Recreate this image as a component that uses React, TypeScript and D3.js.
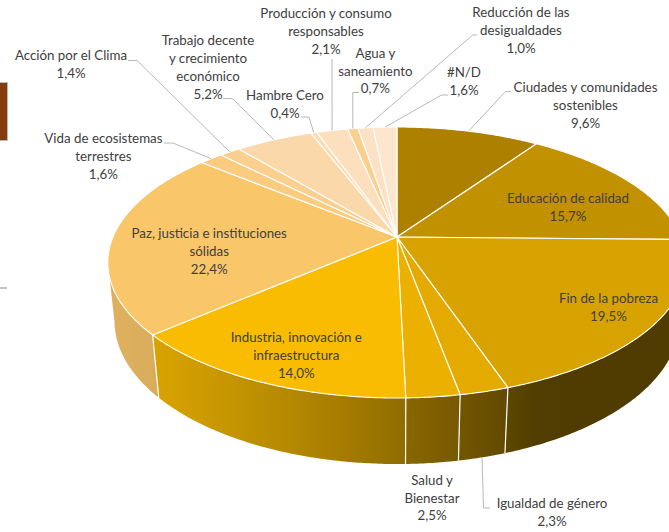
import * as d3 from "d3";

// slices, clockwise from 12 o'clock
const categories = [
  "Ciudades y comunidades sostenibles",
  "Educación de calidad",
  "Fin de la pobreza",
  "Igualdad de género",
  "Salud y Bienestar",
  "Industria, innovación e infraestructura",
  "Paz, justicia e instituciones sólidas",
  "Vida de ecosistemas terrestres",
  "Acción por el Clima",
  "Trabajo decente y crecimiento económico",
  "Hambre Cero",
  "Producción y consumo responsables",
  "Agua y saneamiento",
  "Reducción de las desigualdades",
  "#N/D",
];
const shares = [9.6, 15.7, 19.5, 2.3, 2.5, 14.0, 22.4, 1.6, 1.4, 5.2, 0.4, 2.1, 0.7, 1.0, 1.6];
const labelLines = [
  ["Ciudades y comunidades", "sostenibles"],
  ["Educación de calidad"],
  ["Fin de la pobreza"],
  ["Igualdad de género"],
  ["Salud y", "Bienestar"],
  ["Industria, innovación e", "infraestructura"],
  ["Paz, justicia e instituciones", "sólidas"],
  ["Vida de ecosistemas", "terrestres"],
  ["Acción por el Clima"],
  ["Trabajo decente", "y crecimiento", "económico"],
  ["Hambre Cero"],
  ["Producción y consumo", "responsables"],
  ["Agua y", "saneamiento"],
  ["Reducción de las", "desigualdades"],
  ["#N/D"],
];
const colors = [
  "#AE8000", "#C29100", "#D8A300", "#E4AA00", "#ECB100", "#F9BC00", "#F9C66A",
  "#FBCB80", "#FBCF8E", "#FAD8AA", "#FBDCB2", "#FCE0BE", "#FBD08E", "#FCE2C4", "#FCE6CD",
];

// label layout (centre of first line) and leader hooks
const labelAt: [number, number][] = [
  [585.5, 87.5], [568, 198.3], [608.5, 298.3], [552, 503.3], [432, 480],
  [296.3, 337.7], [209.2, 233.3], [103.4, 138.4], [71, 55.3], [208, 40.7],
  [285, 95.4], [326, 13.6], [375.4, 53], [521, 12.6], [464, 72.3],
];
const hooks: ([number, number][] | null)[] = [
  [[505.5, 91.6], [511, 91.6]],
  null,
  null,
  [[483.5, 508], [490, 508]],
  null,
  null,
  null,
  [[173, 143], [164, 143]],
  [[137, 60.5], [128, 60.5]],
  [[232.5, 98.5], [223, 98.5]],
  [[309, 117], [301, 117]],
  [[332, 59]],
  [[352.8, 92.5], [359, 92.5]],
  [[472.7, 35], [477, 35]],
  [[441.6, 95], [448, 95]],
];

const W = 669, H = 532;
// perspective camera for the 3d pie
const cx = 397, cy = 237, focal = 1340, dist = 4.718;
const sinE = 0.4602, cosE = 0.8878, thick = 0.233;

function project(theta: number, y: number): [number, number] {
  const X = Math.sin(theta), Z = Math.cos(theta);
  const yc = y * cosE + Z * sinE;
  const d = dist + Z * cosE - y * sinE;
  return [cx + (focal * X) / d, cy - (focal * yc) / d];
}

function shade(col: string, theta: number) {
  const deg = (theta * 180) / Math.PI;
  const k = 0.37 + 0.52 * Math.max(0, Math.cos(((deg - 245) * Math.PI) / 180));
  const c = d3.rgb(col);
  return d3.rgb(c.r * k, c.g * k, c.b * k).formatHex();
}

const fmt = (v: number) => v.toFixed(1).replace(".", ",") + "%";

export default function App() {
  const arcs = d3.pie<number>().sort(null).value((d) => d)(shares);
  const line = d3.line();
  const step = Math.PI / 360;

  const arcPts = (s: number, e: number, y: number) => {
    const n = Math.max(2, Math.ceil((e - s) / step));
    return d3.range(n + 1).map((i) => project(s + ((e - s) * i) / n, y));
  };

  const tops = arcs.map((a) => line([[cx, cy], ...arcPts(a.startAngle, a.endAngle, 0)]) + "Z");

  // visible side: between the two silhouette angles
  const sil = Math.acos(-cosE / dist);
  const lo = sil, hi = 2 * Math.PI - sil;
  const sides: { d: string; x1: number; x2: number; stops: { o: number; c: string }[] }[] = [];
  const edges: number[] = [];
  arcs.forEach((a, i) => {
    const s = Math.max(a.startAngle, lo), e = Math.min(a.endAngle, hi);
    if (e <= s) return;
    if (a.startAngle > lo && a.startAngle < hi) edges.push(a.startAngle);
    const top = arcPts(s, e, 0);
    const bot = arcPts(s, e, -thick).reverse();
    const x1 = top[0][0], x2 = top[top.length - 1][0];
    const stops = d3.range(13).map((k) => {
      const t = s + ((e - s) * k) / 12;
      const x = project(t, 0)[0];
      return { o: Math.abs(x2 - x1) < 1e-6 ? 0 : (x - x1) / (x2 - x1), c: shade(colors[i], t) };
    });
    sides.push({ d: line([...top, ...bot]) + "Z", x1, x2, stops });
  });

  return (
    <svg width={W} height={H} style={{ position: "absolute", left: 0, top: 0 }}
      fontFamily="Lato, 'Open Sans', sans-serif" fontSize={13.3}>
      <defs>
        {sides.map((s, i) => (
          <linearGradient key={i} id={"side" + i} gradientUnits="userSpaceOnUse" x1={s.x1} x2={s.x2} y1={0} y2={0}>
            {s.stops.map((st, j) => (
              <stop key={j} offset={st.o} stopColor={st.c} />
            ))}
          </linearGradient>
        ))}
      </defs>
      <rect x={0} y={0} width={W} height={H} fill="#fff" />
      <rect x={-1} y={82.5} width={8.5} height={58} fill="#843C0C" stroke="#BFBFBF" strokeWidth={0.75} />
      <line x1={0} x2={7} y1={288} y2={288} stroke="#8C8C8C" strokeWidth={1} />

      {sides.map((s, i) => (
        <path key={"s" + i} d={s.d} fill={`url(#side${i})`} />
      ))}
      {edges.map((t, i) => {
        const [x1, y1] = project(t, 0);
        const [x2, y2] = project(t, -thick);
        return <line key={"e" + i} x1={x1} y1={y1} x2={x2} y2={y2} stroke="#fff" strokeWidth={1.2} />;
      })}
      {tops.map((d, i) => (
        <path key={"t" + i} d={d} fill={colors[i]} stroke="#fff" strokeWidth={1.1} strokeLinejoin="round" />
      ))}

      {arcs.map((a, i) => {
        const hk = hooks[i];
        if (!hk) return null;
        const mid = (a.startAngle + a.endAngle) / 2;
        const front = mid > lo && mid < hi && hk[0][1] > 400;
        const p0 = project(mid, front ? -thick : 0);
        return (
          <path key={"l" + i} d={line([p0, ...hk]) ?? ""} fill="none" stroke="#A6A6A6" strokeWidth={0.8} />
        );
      })}

      {categories.map((c, i) => {
        const [x, y] = labelAt[i];
        const lines = [...labelLines[i], fmt(shares[i])];
        return (
          <text key={c} x={x} y={y} textAnchor="middle" fill="#404040">
            {lines.map((t, j) => (
              <tspan key={j} x={x} y={y + j * 17.9} dy="0.35em">{t}</tspan>
            ))}
          </text>
        );
      })}
    </svg>
  );
}
